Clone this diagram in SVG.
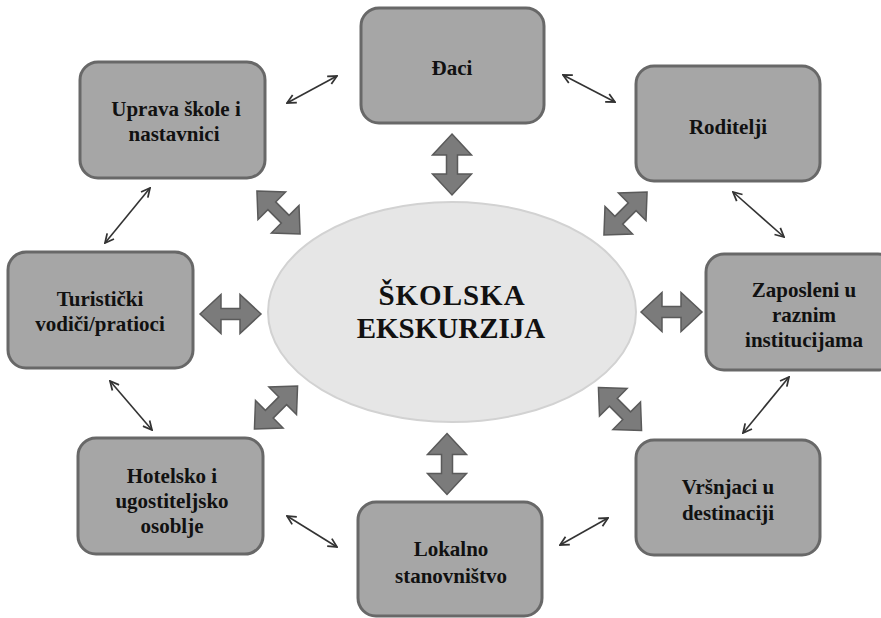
<svg xmlns="http://www.w3.org/2000/svg" width="881" height="618" viewBox="0 0 881 618">
<style>
.box{fill:#a6a6a6;stroke:#686868;stroke-width:3}
.lbl{font-family:"Liberation Serif","Times New Roman",serif;font-weight:bold;font-size:21px;fill:#111;text-anchor:middle}
.big{font-size:29px}
.dbl{fill:#7b7b7b;stroke:#5a5a5a;stroke-width:1.5}
.thin{stroke:#333;stroke-width:1.6;fill:none;marker-start:url(#ah);marker-end:url(#ah)}
</style>
<defs>
<marker id="ah" viewBox="0 0 10 10" refX="9" refY="5" markerWidth="11" markerHeight="11" markerUnits="userSpaceOnUse" orient="auto-start-reverse">
<path d="M1,1 L9,5 L1,9" fill="none" stroke="#333" stroke-width="1.6"/>
</marker>
<path id="da" d="M-30.5,0 L-9.5,-19.5 L-9.5,-5.5 L9.5,-5.5 L9.5,-19.5 L30.5,0 L9.5,19.5 L9.5,5.5 L-9.5,5.5 L-9.5,19.5 Z"/>
</defs>
<rect width="881" height="618" fill="#fff"/>

<g id="center">
<ellipse cx="452" cy="312" rx="184" ry="110" fill="#e6e6e6" stroke="#d2d2d2" stroke-width="2"/>
<text class="lbl big" x="452" y="305" letter-spacing="1">ŠKOLSKA</text>
<text class="lbl big" x="451" y="338">EKSKURZIJA</text>
</g>

<g id="daci"><rect class="box" x="361" y="8" width="183" height="115" rx="18"/>
<text class="lbl" x="452" y="75">Đaci</text></g>

<g id="uprava"><rect class="box" x="80" y="62" width="185" height="116" rx="18"/>
<text class="lbl" x="176" y="116">Uprava škole i</text>
<text class="lbl" x="174" y="141">nastavnici</text></g>

<g id="roditelji"><rect class="box" x="636" y="66" width="184" height="115" rx="18"/>
<text class="lbl" x="728" y="134">Roditelji</text></g>

<g id="turisticki"><rect class="box" x="8" y="252" width="185" height="116" rx="18"/>
<text class="lbl" x="100" y="306">Turistički</text>
<text class="lbl" x="100" y="331">vodiči/pratioci</text></g>

<g id="zaposleni"><rect class="box" x="706" y="254" width="190" height="116" rx="18"/>
<text class="lbl" x="804" y="297">Zaposleni u</text>
<text class="lbl" x="804" y="322">raznim</text>
<text class="lbl" x="804" y="347">institucijama</text></g>

<g id="hotelsko"><rect class="box" x="78" y="438" width="185" height="116" rx="18"/>
<text class="lbl" x="172" y="483">Hotelsko i</text>
<text class="lbl" x="172" y="508">ugostiteljsko</text>
<text class="lbl" x="172" y="533">osoblje</text></g>

<g id="lokalno"><rect class="box" x="358" y="502" width="184" height="114" rx="18"/>
<text class="lbl" x="451" y="556">Lokalno</text>
<text class="lbl" x="451" y="583">stanovništvo</text></g>

<g id="vrsnjaci"><rect class="box" x="636" y="440" width="184" height="115" rx="18"/>
<text class="lbl" x="728" y="494">Vršnjaci u</text>
<text class="lbl" x="728" y="520">destinaciji</text></g>

<g id="connectors">
<use href="#da" class="dbl" transform="translate(452,164.5) rotate(90)"/>
<use href="#da" class="dbl" transform="translate(447,464) rotate(90)"/>
<use href="#da" class="dbl" transform="translate(230.5,314)"/>
<use href="#da" class="dbl" transform="translate(671.5,312)"/>
<use href="#da" class="dbl" transform="translate(278.5,212.5) rotate(45)"/>
<use href="#da" class="dbl" transform="translate(625.5,213.5) rotate(-45)"/>
<use href="#da" class="dbl" transform="translate(276,407.5) rotate(-45)"/>
<use href="#da" class="dbl" transform="translate(620,409) rotate(45)"/>

<line class="thin" x1="287" y1="103" x2="337" y2="76"/>
<line class="thin" x1="563" y1="75" x2="615" y2="102"/>
<line class="thin" x1="733" y1="192" x2="784" y2="237"/>
<line class="thin" x1="789" y1="377" x2="743" y2="433"/>
<line class="thin" x1="608" y1="518" x2="560" y2="545"/>
<line class="thin" x1="337" y1="547" x2="287" y2="516"/>
<line class="thin" x1="152" y1="430" x2="110" y2="381"/>
<line class="thin" x1="105" y1="243" x2="150" y2="188"/>
</g>
</svg>
